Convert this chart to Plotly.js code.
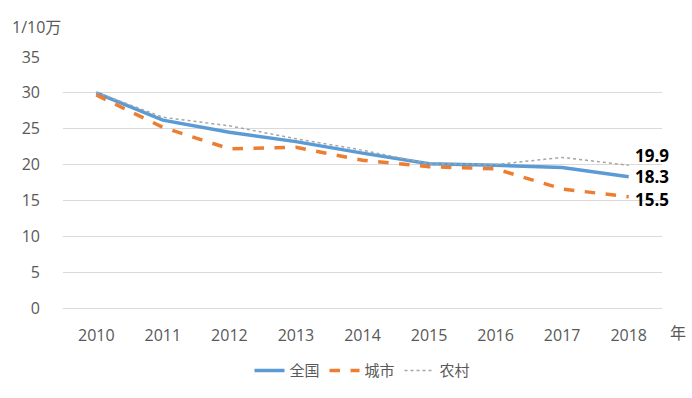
<!DOCTYPE html>
<html><head><meta charset="utf-8">
<script src="https://cdn.plot.ly/plotly-3.0.1.min.js"></script>
<style>html,body{margin:0;padding:0;background:#fff}</style>
</head><body>
<div id="chart" style="width:692px;height:398px"></div>
<script>
const years = ['2010','2011','2012','2013','2014','2015','2016','2017','2018'];
const national = [30.0, 26.2, 24.5, 23.2, 21.6, 20.1, 19.9, 19.6, 18.3];
const urban = [29.7, 25.2, 22.2, 22.4, 20.6, 19.7, 19.4, 16.6, 15.5];
const rural = [30.1, 26.6, 25.4, 23.6, 22.0, 20.1, 20.0, 21.0, 19.9];
const seriesNames = ['全国', '城市', '农村'];
const yTicks = [0, 5, 10, 15, 20, 25, 30, 35];

const font = "'Open Sans', 'Noto Sans', 'Noto Sans CJK SC', sans-serif";
const cjk = "'Noto Sans CJK SC', sans-serif";
const lblFont = {size:17, color:'#000', family:font, weight:'bold'};

const traces = [
  {x: years, y: national, name: seriesNames[0], type:'scatter', mode:'lines',
   line:{color:'#5B9BD5', width:3.5}},
  {x: years, y: urban, name: seriesNames[1], type:'scatter', mode:'lines',
   line:{color:'#ED7D31', width:3.5, dash:'dash'}},
  {x: years, y: rural, name: seriesNames[2], type:'scatter', mode:'lines',
   line:{color:'#A5A5A5', width:1.5, dash:'dot'}}
];

const last = years.length - 1;
function endLabel(arr, yshift){
  return {x: last, y: arr[last], xref:'x', yref:'y', text: arr[last].toFixed(1),
    showarrow:false, xanchor:'left', yanchor:'middle', xshift:4, yshift:yshift, font:lblFont};
}

const layout = {
  width:692, height:398,
  margin:{l:63, r:30, t:57, b:90, autoexpand:false},
  paper_bgcolor:'#fff', plot_bgcolor:'#fff',
  showlegend:true,
  legend:{orientation:'h', x:0.5, xanchor:'center', yref:'container', y:0.11, yanchor:'top',
    font:{size:15, color:'#595959', family:cjk}, traceorder:'normal'},
  xaxis:{type:'category', range:[-0.5, 8.5], showgrid:false, zeroline:false, automargin:false,
    showline:false, ticks:'', tickfont:{size:16, color:'#595959', family:font},
    ticklabelstandoff:16, fixedrange:true},
  yaxis:{range:[0,35], tickvals:yTicks, showgrid:true, gridcolor:'#D9D9D9', gridwidth:1, automargin:false,
    zeroline:true, zerolinecolor:'#D9D9D9', zerolinewidth:1, showline:false, ticks:'',
    tickfont:{size:16, color:'#595959', family:font}, ticklabelstandoff:22, fixedrange:true},
  annotations:[
    endLabel(rural, 10),
    endLabel(national, 0),
    endLabel(urban, -3),
    {text:'1/10万', xref:'paper', yref:'paper', x:-0.088, y:1.0, xanchor:'left', yanchor:'bottom', yshift:17,
     showarrow:false, font:{size:16, color:'#595959', family:font}},
    {text:'年', xref:'paper', yref:'paper', x:1.0, y:0, xanchor:'left', yanchor:'top', xshift:6, yshift:-10,
     showarrow:false, font:{size:16, color:'#595959', family:cjk}}
  ]
};
Plotly.newPlot('chart', traces, layout, {displayModeBar:false, staticPlot:true});
</script>
</body></html>
